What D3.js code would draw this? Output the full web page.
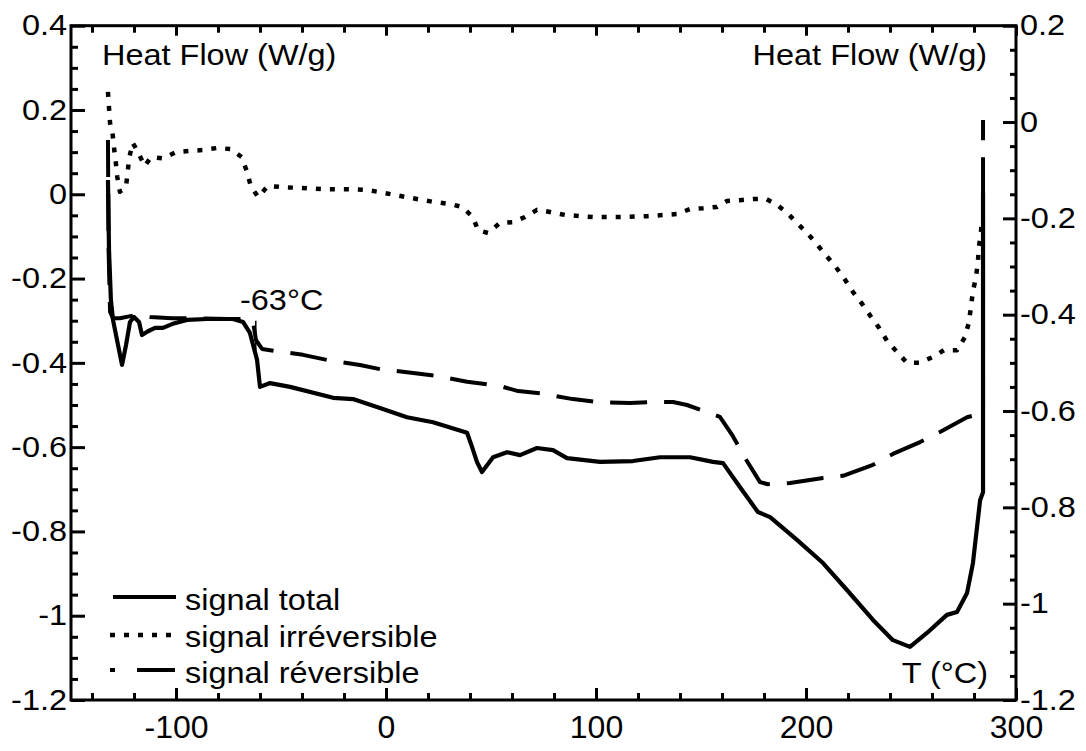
<!DOCTYPE html>
<html>
<head>
<meta charset="utf-8">
<script src="https://cdn.jsdelivr.net/npm/d3@7"></script>
<style>
  html, body { margin: 0; padding: 0; background: #fff; }
  svg { display: block; }
  text { font-family: "Liberation Sans", Arial, sans-serif; fill: #000; }
</style>
</head>
<body>
<svg id="chart" width="1086" height="751"></svg>
<script>
// ---- Data ----
const xTicksMajor = [-100, 0, 100, 200, 300];
const xLabels = ["-100", "0", "100", "200", "300"];
const yLeftTicksMajor = [0.4, 0.2, 0, -0.2, -0.4, -0.6, -0.8, -1, -1.2];
const yRightTicksMajor = [0.2, 0, -0.2, -0.4, -0.6, -0.8, -1, -1.2];
const yLeftLabels = ["0.4", "0.2", "0", "-0.2", "-0.4", "-0.6", "-0.8", "-1", "-1.2"];
const yRightLabels = ["0.2", "0", "-0.2", "-0.4", "-0.6", "-0.8", "-1", "-1.2"];

const seriesNames = ["signal total", "signal irréversible", "signal réversible"];

const tempTotal = [-132.4, -131.9, -131.0, -130.0, -127.6, -125.7, -123.8, -121.9, -120.0, -117.6,
  -116.2, -113.3, -110.0, -106.2, -101.9, -94.8, -85.2, -72.9, -68.1, -64.8,
  -61.4, -60.0, -55.2, -45.7, -25.2, -15.7, -2.9, 10.0, 22.4, 38.6,
  41.0, 43.3, 45.7, 51.0, 57.6, 63.8, 71.9, 79.5, 86.2, 101.9,
  117.6, 130.5, 144.8, 155.7, 160.5, 168.6, 177.1, 182.9, 195.7, 208.1,
  219.5, 231.9, 241.4, 249.5, 257.6, 267.1, 271.9, 276.7, 279.5, 282.9,
  284.3, 284.3];
const totalSignal = [0.034, -0.132, -0.251, -0.298, -0.358, -0.405, -0.358, -0.303, -0.291, -0.303,
  -0.334, -0.325, -0.317, -0.317, -0.308, -0.298, -0.296, -0.296, -0.303, -0.329,
  -0.393, -0.457, -0.448, -0.457, -0.483, -0.486, -0.507, -0.529, -0.541, -0.566,
  -0.600, -0.635, -0.659, -0.624, -0.612, -0.619, -0.602, -0.607, -0.626, -0.635,
  -0.633, -0.624, -0.624, -0.635, -0.638, -0.695, -0.754, -0.766, -0.820, -0.875,
  -0.939, -1.010, -1.058, -1.074, -1.041, -0.998, -0.991, -0.946, -0.875, -0.726,
  -0.707, 0.003];

const tempIrr = [-132.4, -131.4, -130.3, -129.5, -128.7, -128.0, -126.7, -123.8, -123.0, -122.2,
  -120.6, -118.2, -114.9, -111.9, -106.3, -100.0, -92.9, -87.3, -80.1, -73.8,
  -68.7, -66.3, -64.3, -60.8, -56.3, -49.7, -40.9, -30.0, -17.1, -9.0,
  -2.9, 10.0, 22.4, 30.5, 36.2, 41.4, 43.8, 48.6, 54.3, 60.5,
  66.2, 71.9, 78.1, 85.2, 98.6, 111.4, 124.3, 138.6, 144.8, 151.0,
  157.6, 162.4, 168.6, 174.8, 181.0, 186.2, 191.0, 195.7, 200.5, 204.8,
  209.0, 213.8, 218.1, 222.4, 226.7, 231.0, 234.8, 238.6, 243.3, 248.1,
  253.8, 260.5, 265.7, 271.9, 275.7, 277.6, 278.6, 279.5, 281.0, 281.9,
  282.4, 283.3, 283.8];
const irrSignal = [0.243, 0.169, 0.148, 0.110, 0.077, 0.042, 0.006, 0.018, 0.054, 0.088,
  0.122, 0.101, 0.067, 0.088, 0.085, 0.100, 0.103, 0.105, 0.110, 0.107,
  0.088, 0.055, 0.018, -0.007, 0.020, 0.017, 0.015, 0.012, 0.012, 0.010,
  0.005, -0.007, -0.018, -0.023, -0.030, -0.054, -0.085, -0.092, -0.068, -0.066,
  -0.054, -0.037, -0.042, -0.049, -0.054, -0.054, -0.052, -0.047, -0.035, -0.033,
  -0.030, -0.016, -0.014, -0.011, -0.011, -0.025, -0.044, -0.068, -0.092, -0.116,
  -0.142, -0.170, -0.199, -0.232, -0.260, -0.291, -0.317, -0.348, -0.374, -0.400,
  -0.400, -0.386, -0.370, -0.370, -0.339, -0.303, -0.265, -0.230, -0.196, -0.156,
  -0.123, -0.090, -0.061];

const tempRev = [-132.4, -132.1, -131.4, -130.0, -126.7, -118.6, -112.4, -101.9, -91.0, -75.2,
  -65.7, -63.3, -61.9, -59.0, -55.2, -39.5, -28.1, -12.4, -2.9, 12.9,
  24.3, 38.6, 47.1, 54.3, 62.9, 73.3, 89.0, 100.5, 116.2, 125.7,
  136.7, 143.3, 152.9, 159.0, 165.2, 171.0, 178.1, 181.9, 192.4, 208.1,
  217.6, 231.9, 241.4, 254.3, 263.8, 276.7, 279.0, 284.3, 284.3];
const revSignal = [0.129, -0.132, -0.279, -0.294, -0.294, -0.286, -0.291, -0.294, -0.294, -0.296,
  -0.296, -0.303, -0.346, -0.367, -0.370, -0.381, -0.393, -0.405, -0.415, -0.424,
  -0.431, -0.445, -0.450, -0.455, -0.467, -0.472, -0.486, -0.493, -0.495, -0.493,
  -0.493, -0.500, -0.517, -0.528, -0.574, -0.626, -0.683, -0.688, -0.685, -0.673,
  -0.668, -0.642, -0.616, -0.588, -0.564, -0.529, -0.526, -0.526, 0.176];

// Glass transition marker
const tgTemp = -62;
const tgRange = [-0.300, -0.370];
const tgLabel = "-63°C";

// ---- Layout ----
const svg = d3.select("#chart");
const X0 = 71, X1 = 1016, Y0 = 25.7, Y1 = 700;
const FS = 29, SX = 1.12;

const x = d3.scaleLinear().domain([-150, 300]).range([X0, X1]);
const yL = d3.scaleLinear().domain([-1.2, 0.4]).range([Y1, Y0]);
const yR = d3.scaleLinear().domain([-1.2, 0.2]).range([Y1, Y0]);

function range(a, b, s) { const r = []; for (let v = a; v <= b + 1e-9; v += s) r.push(+v.toFixed(4)); return r; }
const xMinor = range(-140, 300, 20).filter(v => v % 100 !== 0);
const yLMinor = range(-1.2, 0.4, 0.05).filter(v => !yLeftTicksMajor.some(m => Math.abs(m - v) < 1e-6));
const yRMinor = range(-1.2, 0.2, 0.05).filter(v => !yRightTicksMajor.some(m => Math.abs(m - v) < 1e-6));

function styleAxis(g) {
  g.select(".domain").remove();
  g.selectAll("line").attr("stroke", "#000").attr("stroke-width", 3);
  g.selectAll("text").attr("font-size", FS).attr("font-family", '"Liberation Sans", Arial, sans-serif')
    .attr("fill", "#000");
}

// bottom axis
svg.append("g").attr("transform", `translate(0,${Y1})`)
  .call(d3.axisBottom(x).tickValues(xTicksMajor).tickSize(-12).tickPadding(15)
    .tickFormat((d, i) => xLabels[i]))
  .call(styleAxis)
  .call(g => g.selectAll("text").attr("font-size", 32));
svg.append("g").attr("transform", `translate(0,${Y1})`)
  .call(d3.axisBottom(x).tickValues(xMinor).tickSize(-7).tickFormat(""))
  .call(styleAxis);
// top axis
svg.append("g").attr("transform", `translate(0,${Y0})`)
  .call(d3.axisTop(x).tickValues(xTicksMajor).tickSize(-10).tickFormat(""))
  .call(styleAxis);
svg.append("g").attr("transform", `translate(0,${Y0})`)
  .call(d3.axisTop(x).tickValues(xMinor).tickSize(-7).tickFormat(""))
  .call(styleAxis);
// left axis
svg.append("g").attr("transform", `translate(${X0},0)`)
  .call(d3.axisLeft(yL).tickValues(yLeftTicksMajor).tickSize(-14).tickPadding(4)
    .tickFormat((d, i) => yLeftLabels[i]))
  .call(styleAxis)
  .call(g => g.selectAll("text").attr("x", -4 / SX).attr("transform", `scale(${SX},1)`));
svg.append("g").attr("transform", `translate(${X0},0)`)
  .call(d3.axisLeft(yL).tickValues(yLMinor).tickSize(-7).tickFormat(""))
  .call(styleAxis);
// right axis
svg.append("g").attr("transform", `translate(${X1},0)`)
  .call(d3.axisRight(yR).tickValues(yRightTicksMajor).tickSize(-13).tickPadding(4)
    .tickFormat((d, i) => yRightLabels[i]))
  .call(styleAxis)
  .call(g => g.selectAll("text").attr("x", 4 / SX).attr("transform", `scale(${SX},1)`));
svg.append("g").attr("transform", `translate(${X1},0)`)
  .call(d3.axisRight(yR).tickValues(yRMinor).tickSize(-6).tickFormat(""))
  .call(styleAxis);

// frame
svg.append("rect").attr("x", X0).attr("y", Y0).attr("width", X1 - X0).attr("height", Y1 - Y0)
  .attr("fill", "none").attr("stroke", "#000").attr("stroke-width", 3);

// ---- Curves ----
const line = d3.line().x(d => x(d[0])).y(d => yL(d[1]));
const zip = (a, b) => a.map((t, i) => [t, b[i]]);

svg.append("path").datum(zip(tempIrr, irrSignal)).attr("d", line)
  .attr("fill", "none").attr("stroke", "#000").attr("stroke-width", 4.5)
  .attr("stroke-dasharray", "5,9").attr("stroke-linejoin", "round");

svg.append("path").datum(zip(tempRev, revSignal)).attr("d", line)
  .attr("fill", "none").attr("stroke", "#000").attr("stroke-width", 4)
  .attr("stroke-dasharray", "37,17").attr("stroke-linejoin", "round");

svg.append("path").datum(zip(tempTotal, totalSignal)).attr("d", line)
  .attr("fill", "none").attr("stroke", "#000").attr("stroke-width", 4.2)
  .attr("stroke-linejoin", "round");

// Tg marker
svg.append("line").attr("x1", x(tgTemp)).attr("x2", x(tgTemp))
  .attr("y1", yL(tgRange[0])).attr("y2", yL(tgRange[1]))
  .attr("stroke", "#000").attr("stroke-width", 1.5);

function addText(txt, px, py, anchor) {
  svg.append("text").attr("transform", `translate(${px},${py}) scale(${SX},1)`)
    .attr("text-anchor", anchor || "start").attr("font-size", FS).text(txt);
}
addText(tgLabel, 240, 310);
addText("Heat Flow (W/g)", 102, 65);
addText("Heat Flow (W/g)", 987, 65, "end");
addText("T (°C)", 988, 683, "end");

// ---- Legend ----
const legY = [597, 635, 670];
const legBase = [610, 647, 683];
const legStyles = [null, "5,9", "5,22,38"];
const legW = [4, 4.5, 4];
seriesNames.forEach((name, i) => {
  svg.append("line").attr("x1", i === 0 ? 113 : 110).attr("x2", 176)
    .attr("y1", legY[i]).attr("y2", legY[i])
    .attr("stroke", "#000").attr("stroke-width", legW[i])
    .attr("stroke-dasharray", legStyles[i]);
  addText(name, 185, legBase[i]);
});
</script>
</body>
</html>
